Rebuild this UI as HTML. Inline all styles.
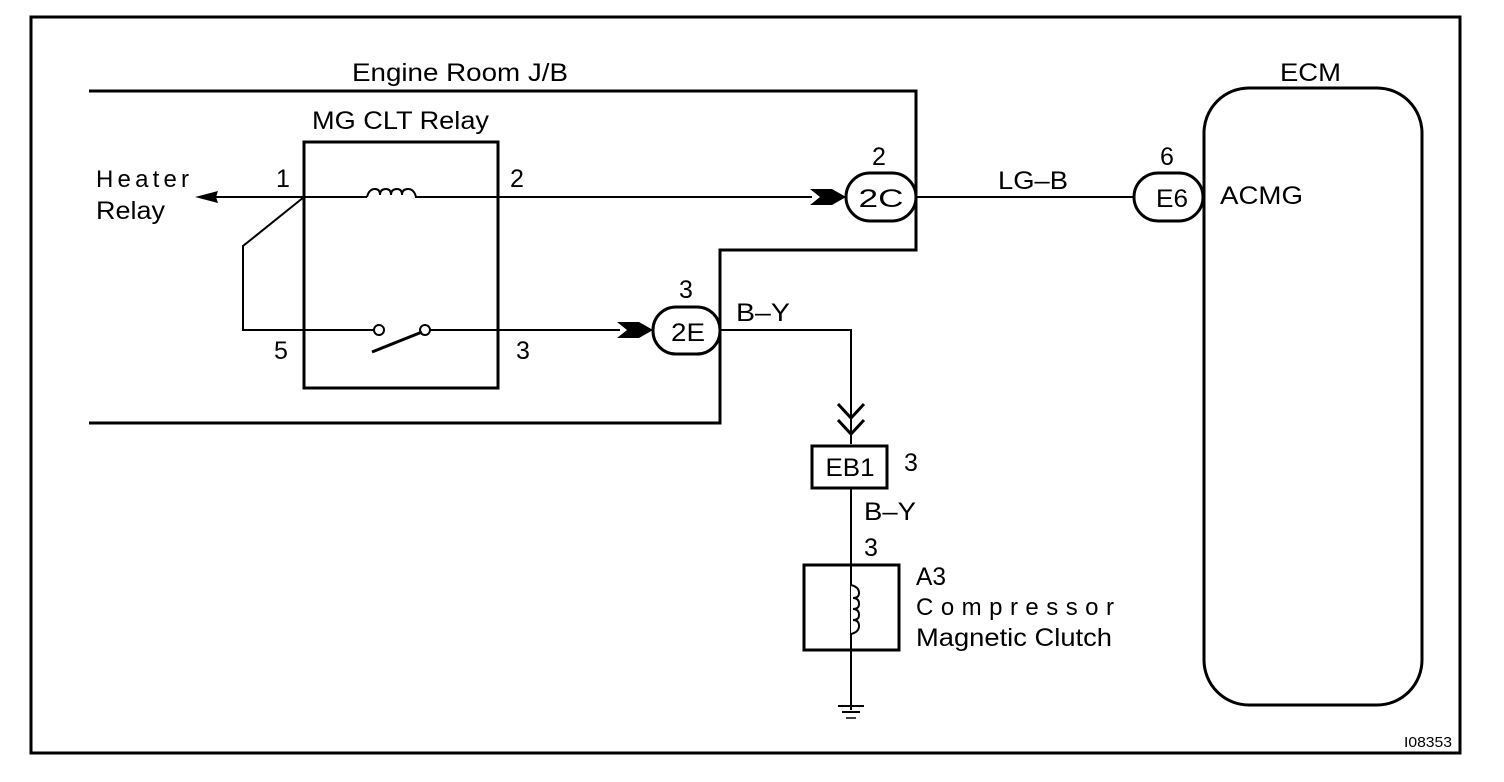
<!DOCTYPE html>
<html><head><style>
html,body{margin:0;padding:0;background:#fff;}
svg{display:block;}
text{font-family:"Liberation Sans",Arial,sans-serif;fill:#000;}
</style></head><body>
<svg width="1504" height="782" viewBox="0 0 1504 782" xmlns="http://www.w3.org/2000/svg">
<rect x="31" y="17" width="1429" height="736" fill="none" stroke="#000" stroke-width="3"/>
<polyline points="89,91 916,91 916,250 720,250 720,423 89,423" fill="none" stroke="#000" stroke-width="3"/>
<text x="352" y="81" font-size="25" textLength="216" lengthAdjust="spacingAndGlyphs">Engine Room J/B</text>
<rect x="304" y="142" width="194" height="246" fill="none" stroke="#000" stroke-width="3"/>
<text x="312" y="129" font-size="25" textLength="177" lengthAdjust="spacingAndGlyphs">MG CLT Relay</text>
<text x="96" y="187" font-size="24" textLength="93" lengthAdjust="spacing">Heater</text>
<text x="96" y="219" font-size="25" textLength="69" lengthAdjust="spacingAndGlyphs">Relay</text>
<text x="276" y="187" font-size="25">1</text>
<text x="510" y="187" font-size="25">2</text>
<text x="274" y="359" font-size="25">5</text>
<text x="516" y="359" font-size="25">3</text>
<line x1="210" y1="197" x2="367" y2="197" stroke="#000" stroke-width="2"/>
<path d="M367,197 q2,-8 8,-8 q5,0 5,6 q0,-6 6,-6 q5,0 5,6 q0,-6 6,-6 q5,0 5,6 q0,-6 6,-6 q6,0 8,8" fill="none" stroke="#000" stroke-width="2"/>
<line x1="415" y1="197" x2="812" y2="197" stroke="#000" stroke-width="2"/>
<polygon points="195,197 218,191 216,197 218,203" fill="#000"/>
<polyline points="304,197 243,246 243,330 373,330" fill="none" stroke="#000" stroke-width="2"/>
<circle cx="379" cy="330" r="5" fill="#fff" stroke="#000" stroke-width="2"/>
<circle cx="425" cy="330" r="5" fill="#fff" stroke="#000" stroke-width="2"/>
<line x1="372" y1="352" x2="422" y2="332" stroke="#000" stroke-width="3"/>
<line x1="430" y1="330" x2="620" y2="330" stroke="#000" stroke-width="2"/>
<polygon points="810,189 832,189 846,197 832,205 810,205 820,197" fill="#000"/>
<polygon points="617,322 639,322 653,330 639,338 617,338 627,330" fill="#000"/>
<rect x="846" y="173" width="70" height="48" rx="24" fill="#fff" stroke="#000" stroke-width="3"/>
<text x="881" y="207" font-size="25" text-anchor="middle" textLength="45" lengthAdjust="spacingAndGlyphs">2C</text>
<text x="872" y="165" font-size="25">2</text>
<rect x="653" y="307" width="67" height="47" rx="23" fill="#fff" stroke="#000" stroke-width="3"/>
<text x="688" y="341" font-size="25" text-anchor="middle" textLength="34" lengthAdjust="spacingAndGlyphs">2E</text>
<text x="679" y="298" font-size="25">3</text>
<line x1="916" y1="197" x2="1134" y2="197" stroke="#000" stroke-width="2"/>
<text x="998" y="189" font-size="25" textLength="70" lengthAdjust="spacingAndGlyphs">LG–B</text>
<rect x="1134" y="173" width="69" height="48" rx="24" fill="#fff" stroke="#000" stroke-width="3"/>
<text x="1172" y="207" font-size="25" text-anchor="middle" textLength="32" lengthAdjust="spacingAndGlyphs">E6</text>
<text x="1160" y="165" font-size="25">6</text>
<rect x="1204" y="88" width="218" height="617" rx="45" fill="none" stroke="#000" stroke-width="3"/>
<text x="1280" y="81" font-size="25" textLength="61" lengthAdjust="spacingAndGlyphs">ECM</text>
<text x="1220" y="204" font-size="25" textLength="83" lengthAdjust="spacingAndGlyphs">ACMG</text>
<polyline points="720,330 851,330 851,444" fill="none" stroke="#000" stroke-width="2"/>
<text x="736" y="321" font-size="25" textLength="54" lengthAdjust="spacingAndGlyphs">B–Y</text>
<polyline points="838,404 851,418 864,404" fill="none" stroke="#000" stroke-width="3"/>
<polyline points="838,420 851,434 864,420" fill="none" stroke="#000" stroke-width="3"/>
<rect x="812" y="446" width="75" height="42" fill="none" stroke="#000" stroke-width="3"/>
<text x="850" y="476" font-size="25" text-anchor="middle" textLength="49" lengthAdjust="spacingAndGlyphs">EB1</text>
<text x="904" y="471" font-size="25">3</text>
<line x1="851" y1="488" x2="851" y2="710" stroke="#000" stroke-width="2"/>
<text x="864" y="520" font-size="25" textLength="52" lengthAdjust="spacingAndGlyphs">B–Y</text>
<text x="864" y="556" font-size="25">3</text>
<rect x="804" y="565" width="95" height="85" fill="none" stroke="#000" stroke-width="3"/>
<path d="M851,585 q8,2 8,8 q0,5 -6,5 q6,0 6,6 q0,5 -6,5 q6,0 6,6 q0,5 -6,5 q6,0 6,6 q0,6 -8,8" fill="#fff" stroke="#000" stroke-width="2"/>
<line x1="838" y1="706" x2="864" y2="706" stroke="#000" stroke-width="2"/>
<line x1="842" y1="712" x2="860" y2="712" stroke="#000" stroke-width="2"/>
<line x1="846" y1="718" x2="856" y2="718" stroke="#000" stroke-width="1.5"/>
<text x="916" y="585" font-size="25" textLength="30" lengthAdjust="spacingAndGlyphs">A3</text>
<text x="916" y="615" font-size="24" textLength="198" lengthAdjust="spacing">Compressor</text>
<text x="916" y="646" font-size="25" textLength="196" lengthAdjust="spacingAndGlyphs">Magnetic Clutch</text>
<text x="1404" y="747" font-size="15" textLength="48" lengthAdjust="spacingAndGlyphs">I08353</text>
</svg>
</body></html>
